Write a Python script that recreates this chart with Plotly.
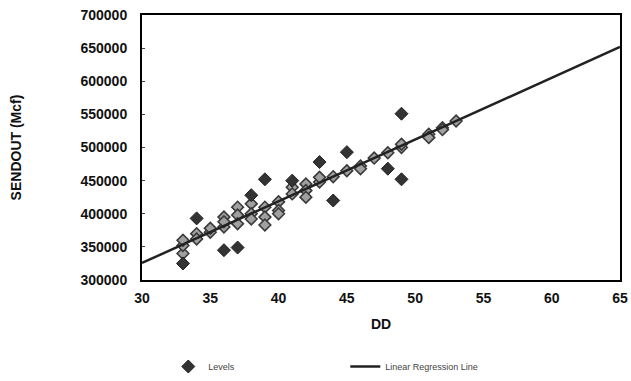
import plotly.graph_objects as go

# Actual observations (outliers, dark diamonds)
dd_dark = [33, 34, 36, 37, 39, 43, 44, 45, 48, 49, 49, 38, 41]
send_dark = [325000, 393000, 345000, 349000, 452000, 478000, 420000, 493000, 468000, 551000, 452000, 428000, 450000]

# Observations clustered near the regression line
dd_near = [33, 33, 33, 34, 34, 35, 35, 36, 36, 36, 37, 37, 37, 38, 38, 38, 39, 39, 39,
           40, 40, 40, 41, 41, 42, 42, 42, 43, 43, 44, 45, 46, 46, 47, 48, 49, 49, 51, 51, 52, 52, 53]
send_near = [340000, 352000, 360000, 370000, 362000, 372000, 378000, 395000, 380000, 388000,
             410000, 398000, 385000, 415000, 400000, 392000, 410000, 395000, 383000,
             418000, 405000, 400000, 440000, 430000, 445000, 435000, 425000, 448000, 455000,
             456000, 465000, 472000, 468000, 484000, 492000, 500000, 505000, 520000, 515000,
             530000, 527000, 540000]

# Regression line end points
line_x = [30, 65]
line_y = [325700, 651700]

fig = go.Figure()
fig.add_trace(go.Scatter(
    x=dd_near, y=send_near, mode="markers", showlegend=False,
    marker=dict(symbol="diamond", size=9, color="#a0a0a0",
                line=dict(color="#3a3a3a", width=1.6)),
))
fig.add_trace(go.Scatter(
    x=dd_dark, y=send_dark, mode="markers", name="Levels",
    marker=dict(symbol="diamond", size=10, color="#333333",
                line=dict(color="#222222", width=1)),
))
fig.add_trace(go.Scatter(
    x=line_x, y=line_y, mode="lines", name="Linear Regression Line",
    line=dict(color="#222222", width=2.5),
))

tick_font = dict(family="Arial, Liberation Sans", size=14, color="#111111", weight="bold")
fig.update_layout(
    width=631, height=381,
    paper_bgcolor="white", plot_bgcolor="white",
    margin=dict(l=142, r=11, t=15, b=101),
    font=dict(family="Arial, Liberation Sans", color="#111111"),
    xaxis=dict(range=[30, 65], tickvals=[30, 35, 40, 45, 50, 55, 60, 65],
               showgrid=False, zeroline=False, showline=True, linecolor="black",
               linewidth=2, mirror=True, ticks="", tickfont=tick_font,
               ticklabelstandoff=4, automargin=False,
               title=dict(text="<b>DD</b>", font=dict(size=14), standoff=14)),
    yaxis=dict(range=[300000, 700000], dtick=50000, tickformat="d",
               showgrid=False, zeroline=False, showline=True, linecolor="black",
               linewidth=2, mirror=True, ticks="inside", ticklen=3,
               tickfont=tick_font, ticklabelstandoff=10, automargin=False,
               title=dict(text="<b>SENDOUT (Mcf)</b>", font=dict(size=14), standoff=56)),
    legend=dict(orientation="h", x=0.055, y=0.0, yref="container", xanchor="left", yanchor="bottom",
                font=dict(size=9, color="#444444"), entrywidth=132, entrywidthmode="pixels",
                bgcolor="rgba(0,0,0,0)", tracegroupgap=0),
)

fig.write_html("out.html", config={"displayModeBar": False},
               post_script="document.body.style.margin='0';document.body.style.overflow='hidden';")
